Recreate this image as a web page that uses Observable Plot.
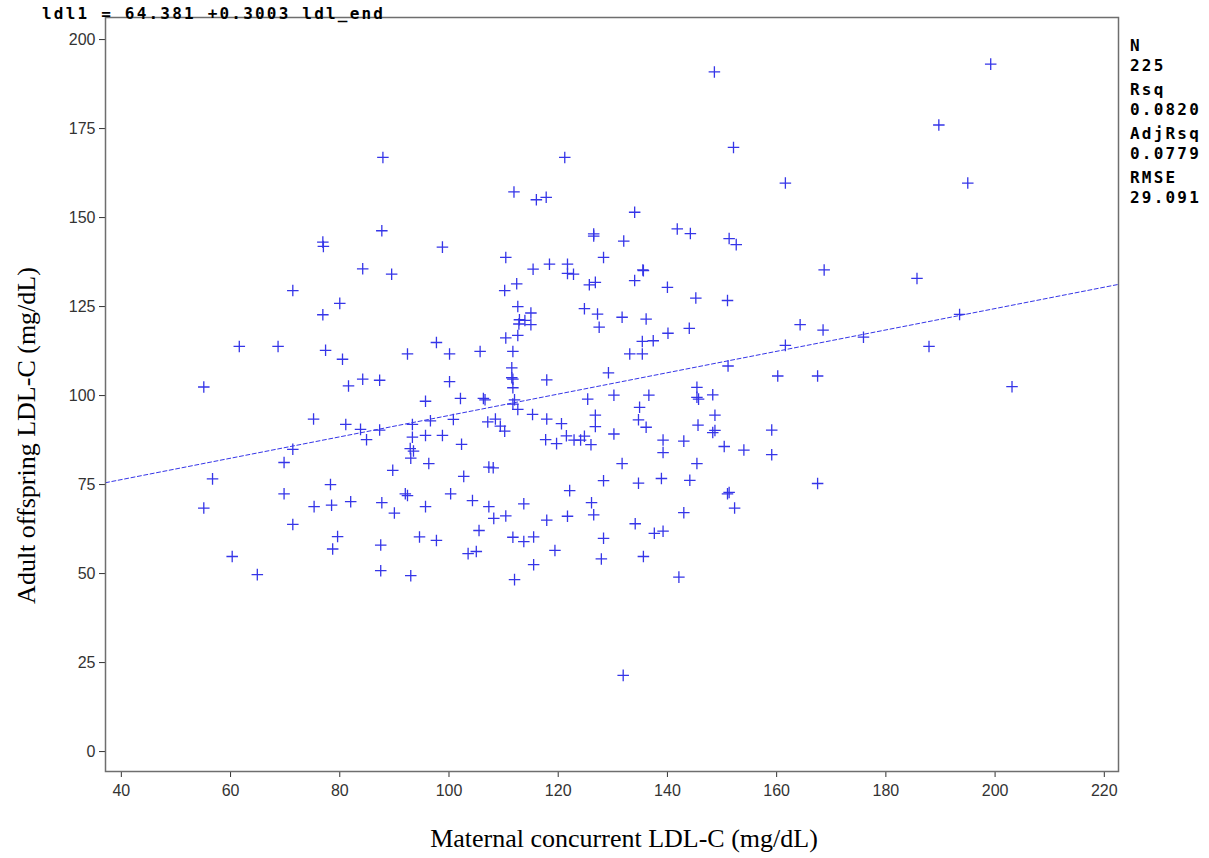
<!DOCTYPE html>
<html>
<head>
<meta charset="utf-8">
<script src="https://cdn.jsdelivr.net/npm/d3@7"></script>
<script src="https://cdn.jsdelivr.net/npm/@observablehq/plot@0.6"></script>
<style>
  html, body { margin: 0; padding: 0; background: #fff; }
  #wrap { position: relative; width: 1209px; height: 858px; }
  #wrap svg { position: absolute; left: 0; top: 0; }
  .mono { font-family: "DejaVu Sans Mono", monospace; font-weight: bold; font-size: 16px; letter-spacing: 2.2px; color: #000; position: absolute; white-space: nowrap; }
  #title { left: 42px; top: 4px; line-height: 20px; }
  #stats { left: 1130px; top: 36px; line-height: 20px; }
  #stats .g { margin-bottom: 4px; }
</style>
</head>
<body>
<div id="wrap">
  <div id="title" class="mono"></div>
  <div id="stats" class="mono"></div>
</div>
<script>
// Maternal concurrent LDL-C (ldl_end)
const ldlEnd = [
  87.9, 87.7, 76.9, 77.0, 98.8, 84.2, 89.5, 71.4,
  80.0, 76.9, 61.6, 68.7, 77.4, 80.5, 55.1, 81.6, 84.2, 87.3, 92.4, 97.7,
  100.1, 100.1, 102.1, 95.7, 75.2, 81.1, 83.8, 87.3, 84.9, 71.4, 93.3, 96.6,
  100.8, 93.3, 95.7, 98.8, 102.3, 92.9, 93.5, 93.0, 96.3, 69.8, 89.7, 102.7,
  56.7, 78.3, 69.8, 92.0, 92.4, 100.3,
  55.1, 75.3, 78.5, 82.0, 87.7, 90.0, 95.7, 71.4, 79.6, 78.7, 87.5, 94.6,
  97.7, 103.5, 60.3, 64.9, 87.5, 93.0,
  148.6, 121.2, 111.9, 116.0, 117.8, 134.0, 126.5, 126.5, 132.0, 141.8, 144.2,
  110.4, 128.3, 115.4, 118.4, 121.7, 121.7, 122.8, 135.5, 135.6, 112.4, 125.7,
  126.8, 134.0, 140.0,
  110.2, 145.2, 112.6, 115.0, 112.9, 113.9, 115.0, 112.8, 124.8, 127.2, 127.5,
  131.7, 136.1, 144.0, 140.1, 135.4, 137.4, 133.1, 135.4, 110.4, 112.6, 105.7,
  111.7, 111.5, 111.5, 111.7, 111.7, 117.9, 129.2, 106.3, 106.6, 112.0, 111.7,
  112.6, 115.3, 117.9, 120.6, 125.4, 130.2, 136.6, 134.9, 134.7, 136.1, 126.8,
  126.8, 130.2, 107.1, 108.5, 109.4, 110.2, 117.7, 119.7, 121.5, 122.9, 124.1,
  124.8, 126.0, 139.2, 139.2, 143.0, 145.4, 145.4, 145.7, 148.3, 148.7, 145.6,
  148.3, 148.7, 131.7, 145.4, 107.3, 108.1, 128.3, 134.7, 138.9, 144.1, 122.1,
  104.3, 107.3, 108.2, 110.4, 113.7, 126.1, 126.5, 121.7, 117.9, 105.5, 111.7,
  113.7, 115.5, 119.4, 105.0, 115.5, 112.0, 128.3, 127.9, 134.1, 137.6, 139.2,
  135.6, 143.0, 142.1, 131.9,
  199.2, 189.7, 152.1, 161.6, 195.0, 151.3, 152.6, 168.7, 185.7,
  151.0, 164.3, 168.5, 175.9, 193.5, 187.9, 161.6, 151.1, 160.2, 167.5, 159.1,
  150.4, 154.0, 159.1, 167.5, 151.0, 151.3, 152.3, 203.1
];
// Adult offspring LDL-C (ldl1)
const ldl1 = [
  166.9, 146.3, 143.1, 141.9, 141.7, 135.6, 134.1, 129.5,
  125.9, 122.7, 113.8, 113.8, 112.7, 110.2, 102.4, 102.7, 104.6, 104.3, 111.7, 114.9,
  111.7, 103.9, 99.2, 98.4, 93.4, 91.9, 90.5, 90.3, 87.6, 84.9, 91.9, 92.9,
  93.3, 88.3, 88.8, 88.8, 86.3, 85.1, 84.4, 82.4, 80.9, 81.2, 79.0, 77.3,
  76.6, 75.0, 72.4, 72.4, 71.9, 72.4,
  68.4, 68.8, 69.2, 70.2, 69.9, 67.0, 68.8, 63.8, 60.4, 56.9, 58.0, 60.3,
  59.3, 55.6, 54.8, 49.7, 50.8, 49.4,
  190.9, 166.9, 157.2, 155.0, 155.7, 151.5, 145.4, 144.8, 143.4, 146.8, 145.5,
  138.8, 138.8, 135.5, 136.9, 136.9, 134.3, 134.1, 135.3, 135.1, 131.4, 131.1,
  131.8, 132.3, 130.4,
  129.5, 127.4, 125.0, 123.2, 121.3, 121.1, 119.9, 120.1, 124.4, 122.9, 119.2,
  122.0, 121.5, 118.9, 117.5, 115.2, 115.4, 111.7, 111.7, 116.2, 116.9, 112.4,
  112.4, 107.8, 105.0, 104.6, 102.2, 104.4, 106.4, 99.2, 98.8, 98.8, 97.6,
  96.1, 94.7, 93.4, 92.1, 99.0, 100.1, 100.1, 96.7, 93.2, 91.1, 94.5,
  91.3, 89.2, 92.6, 93.4, 91.4, 90.0, 87.6, 86.5, 88.7, 87.5, 87.5,
  88.6, 86.2, 87.5, 84.0, 87.2, 102.3, 99.5, 99.0, 100.2, 94.5, 91.7,
  89.6, 90.2, 80.9, 80.9, 79.9, 79.7, 76.1, 75.4, 76.7, 76.2, 73.3,
  70.5, 68.8, 65.5, 66.2, 69.6, 69.9, 66.5, 66.1, 65.0, 62.1, 60.2,
  59.0, 60.3, 56.5, 56.2, 52.5, 48.3, 59.9, 54.1, 64.0, 61.3, 61.9,
  54.8, 67.1, 49.0, 21.4,
  193.1, 176.0, 169.7, 159.7, 159.7, 144.1, 142.4, 135.3, 132.9,
  126.7, 119.9, 118.4, 116.4, 122.8, 113.8, 114.1, 108.3, 105.5, 105.5, 90.3,
  85.7, 84.7, 83.4, 75.3, 72.4, 72.8, 68.4, 102.5
];

const xTicks = [40, 60, 80, 100, 120, 140, 160, 180, 200, 220];
const yTicks = [0, 25, 50, 75, 100, 125, 150, 175, 200];
const xDomain = [37.1, 222.6];
const yDomain = [-5.6, 206.2];
const intercept = 64.381;
const slope = 0.3003;
const titleText = "ldl1 = 64.381 +0.3003 ldl_end";
const statLabels = ["N", "Rsq", "AdjRsq", "RMSE"];
const statValues = ["225", "0.0820", "0.0779", "29.091"];
const xLabel = "Maternal concurrent LDL-C (mg/dL)";
const yLabel = "Adult offspring LDL-C (mg/dL)";

const points = ldlEnd.map((v, i) => ({x: v, y: ldl1[i]}));
const fitLine = xDomain.map(v => ({x: v, y: intercept + slope * v}));
const blue = "#3535e8";
const serif = "'Liberation Serif', 'Times New Roman', serif";

const chart = Plot.plot({
  width: 1209,
  height: 858,
  marginLeft: 105,
  marginRight: 91,
  marginTop: 17,
  marginBottom: 87,
  x: {domain: xDomain},
  y: {domain: yDomain},
  style: {fontFamily: "'Liberation Sans', Arial, sans-serif", fontSize: "16px", color: "#333", background: "transparent"},
  marks: [
    Plot.axisX({ticks: xTicks, tickSize: 6, tickPadding: 7, label: null, fontSize: 16, stroke: "#333"}),
    Plot.axisY({ticks: yTicks, tickSize: 6, tickPadding: 4, label: null, fontSize: 16, stroke: "#333"}),
    Plot.line(fitLine, {x: "x", y: "y", stroke: blue, strokeWidth: 1, strokeDasharray: "4,2.5"}),
    Plot.dot(points, {x: "x", y: "y", symbol: "plus", r: 3.8, stroke: blue, strokeWidth: 1.3}),
    Plot.frame({stroke: "#6e6e6e", strokeWidth: 1.5}),
    Plot.text([xLabel], {text: d => d, frameAnchor: "bottom", lineAnchor: "middle", textAnchor: "middle", dy: 67, dx: 12, fontSize: 26, fontFamily: serif, fill: "#000"}),
    Plot.text([yLabel], {text: d => d, frameAnchor: "left", lineAnchor: "middle", textAnchor: "middle", rotate: -90, dx: -79, dy: 41, fontSize: 26, fontFamily: serif, fill: "#000"})
  ]
});
document.getElementById("wrap").prepend(chart);

document.getElementById("title").textContent = titleText;
const stats = document.getElementById("stats");
statLabels.forEach((lab, i) => {
  const g = document.createElement("div");
  g.className = "g";
  g.innerHTML = `<div>${lab}</div><div>${statValues[i]}</div>`;
  stats.appendChild(g);
});
</script>
</body>
</html>
